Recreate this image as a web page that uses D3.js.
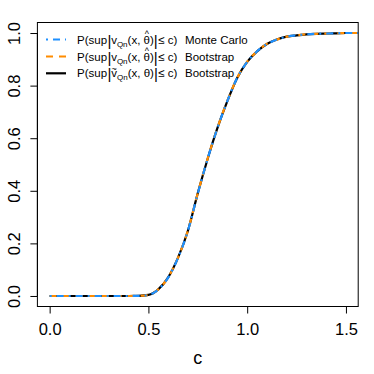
<!DOCTYPE html>
<html><head><meta charset="utf-8">
<script src="https://cdn.jsdelivr.net/npm/d3@7"></script>
<style>body{margin:0;background:#fff}svg{display:block}text{font-family:"Liberation Sans",Arial,Helvetica,sans-serif}</style>
</head><body><svg id="chart" width="374" height="374"></svg>
<script>
// ---- data ----
const cValues = [0,0.05,0.1,0.15,0.2,0.25,0.3,0.35,0.4,0.45,0.5,0.55,0.6,0.65,0.7,0.75,0.8,0.85,0.9,0.95,1.0,1.05,1.1,1.15,1.2,1.25,1.3,1.35,1.4,1.45,1.5,1.55,1.6];
const monteCarlo = [0,0,0,0,0,0,0,0,0,0.0005,0.004,0.024,0.07,0.145,0.248,0.39,0.522,0.64,0.742,0.83,0.89,0.93,0.958,0.975,0.986,0.991,0.995,0.997,0.998,0.999,1,1,1];
const bootstrapHat = [0,0,0,0,0,0,0,0,0,0.0005,0.004,0.025,0.071,0.146,0.249,0.391,0.523,0.641,0.743,0.83,0.891,0.93,0.959,0.975,0.986,0.991,0.995,0.997,0.998,0.999,1,1,1];
const bootstrapTilde = [0,0,0,0,0,0,0,0,0,0.0005,0.004,0.025,0.071,0.146,0.248,0.391,0.522,0.64,0.742,0.83,0.89,0.93,0.958,0.975,0.986,0.991,0.995,0.997,0.998,0.999,1,1,1];
const xTicks = [0, 0.5, 1.0, 1.5];
const yTicks = [0, 0.2, 0.4, 0.6, 0.8, 1.0];
const xLabel = "c";
const legendRight = ["Monte Carlo", "Bootstrap", "Bootstrap"];

const svg = d3.select("#chart");
const L = 37.4, R = 358.2, T = 22.5, B = 306.5;
const x = d3.scaleLinear().domain([-0.062, 1.562]).range([L, R]);
const y = d3.scaleLinear().domain([-0.04, 1.04]).range([B, T]);

svg.append("defs").append("clipPath").attr("id","clip")
  .append("rect").attr("x",L).attr("y",T).attr("width",R-L).attr("height",B-T);

// axes
const xAxis = svg.append("g").attr("transform",`translate(0,${B})`)
  .call(d3.axisBottom(x).tickValues(xTicks).tickFormat(d3.format(".1f")).tickSize(7).tickPadding(5));
const yAxis = svg.append("g").attr("transform",`translate(${L},0)`)
  .call(d3.axisLeft(y).tickValues(yTicks).tickFormat(d3.format(".1f")).tickSize(7));
[xAxis,yAxis].forEach(g=>{
  g.select(".domain").remove();
  g.selectAll("line").attr("stroke","#000").attr("stroke-width",1);
  g.selectAll("text").attr("font-size",16.5).attr("fill","#000");
});
xAxis.append("line").attr("x1",x(0)).attr("x2",x(1.5)).attr("stroke","#000");
yAxis.append("line").attr("y1",y(0)).attr("y2",y(1)).attr("stroke","#000");
xAxis.selectAll("text").attr("dy",null).attr("y",28);
yAxis.selectAll(".tick text").attr("x",null).attr("dy",null)
  .attr("text-anchor","middle").attr("transform","translate(-17,0) rotate(-90)");

svg.append("rect").attr("x",L).attr("y",T).attr("width",R-L).attr("height",B-T)
  .attr("fill","none").attr("stroke","#000").attr("stroke-width",1);

svg.append("text").attr("x",(L+R)/2).attr("y",364).attr("text-anchor","middle")
  .attr("font-size",18).text(xLabel);

// lines
const series = [
  {vals: bootstrapTilde, color:"#000000", dash:null},
  {vals: bootstrapHat, color:"#FF8C00", dash:"7,6"},
  {vals: monteCarlo, color:"#1E90FF", dash:"2,5,7,5"}
];
const line = d3.line().x((d,i)=>x(cValues[i])).y(d=>y(d)).curve(d3.curveMonotoneX);
const gl = svg.append("g").attr("clip-path","url(#clip)");
series.forEach(s=>{
  gl.append("path").datum(s.vals).attr("d",line).attr("fill","none")
    .attr("stroke",s.color).attr("stroke-width",2.2)
    .attr("stroke-dasharray",s.dash);
});

// legend
const rows = [39.5, 56.5, 73.3];
const legSeries = [series[2], series[1], series[0]];
const fs = 11.5;
rows.forEach((cy,i)=>{
  const s = legSeries[i];
  svg.append("line").attr("x1",46).attr("x2",66).attr("y1",cy).attr("y2",cy)
    .attr("stroke",s.color).attr("stroke-width",2.2).attr("stroke-dasharray",s.dash);
  const base = cy + 4;
  const t = svg.append("text").attr("x",77).attr("y",base).attr("font-size",fs);
  t.append("tspan").text("P(sup");
  t.append("tspan").attr("font-size",15).attr("dy",2).attr("dx",0.5).text("|");
  t.append("tspan").attr("dy",-2).attr("dx",-0.3).text("v");
  let after = t.append("tspan").attr("font-size",8).attr("dy",3);
  if (i === 2) {
    // tilde over v
    t.append("tspan").attr("font-size",9).attr("dy",-5).attr("dx",-5.4).text("~");
    after = t.append("tspan").attr("font-size",8).attr("dy",8).attr("dx",0.3);
  }
  after.text("Qn");
  const th = t.append("tspan").attr("dy",-3).text("(x,\u00a0\u03b8");
  if (i !== 2) {
    t.append("tspan").attr("font-size",9).attr("dy",-6.5).attr("dx",-5.3).text("^");
    t.append("tspan").attr("dy",6.5).attr("dx",1.1).text(")");
  } else {
    t.append("tspan").text(")");
  }
  t.append("tspan").attr("font-size",15).attr("dy",2).text("|");
  t.append("tspan").attr("dy",-2).attr("dx",0.5).text("\u2264\u00a0c)");
  svg.append("text").attr("x",185).attr("y",base).attr("font-size",fs).text(legendRight[i]);
});
</script></body></html>
